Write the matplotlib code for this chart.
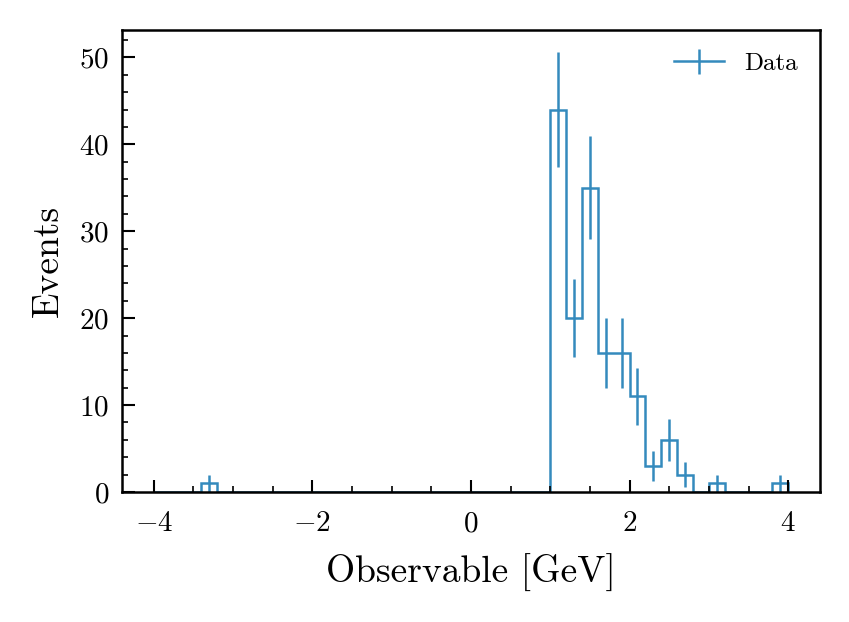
import numpy as np
import matplotlib
matplotlib.use("Agg")
import matplotlib.pyplot as plt

# histogram data: 40 bins of width 0.2 from -4 to 4
bin_edges = np.round(np.arange(-4.0, 4.0001, 0.2), 1)
counts = np.array([
    0, 0, 0, 1, 0, 0, 0, 0, 0, 0,     # -4.0 .. -2.0
    0, 0, 0, 0, 0, 0, 0, 0, 0, 0,     # -2.0 .. 0.0
    0, 0, 0, 0, 0, 44, 20, 35, 16, 16,  # 0.0 .. 2.0
    11, 3, 6, 2, 0, 1, 0, 0, 0, 1,    # 2.0 .. 4.0
])
label = "Data"
x_label = "Observable [GeV]"
y_label = "Events"

color = "#348ABD"

plt.rcParams["font.family"] = "serif"
plt.rcParams["font.serif"] = ["cmr10"]
plt.rcParams["mathtext.fontset"] = "cm"
plt.rcParams["axes.formatter.use_mathtext"] = True

fig = plt.figure(figsize=(849 / 150, 622 / 150), dpi=150)
ax = fig.add_axes([0.1437, 0.209, 0.822, 0.743])

centers = 0.5 * (bin_edges[:-1] + bin_edges[1:])
errors = np.sqrt(counts)

# step outline
ax.stairs(counts, bin_edges, color=color, linewidth=1.2)
# error bars (legend entry shows line + vertical bar)
ax.errorbar(centers, counts, yerr=errors, fmt="none", ecolor=color, elinewidth=1.2)
ax.errorbar([np.nan], [np.nan], yerr=[1], color=color, linewidth=1.2,
            elinewidth=1.2, label=label)

ax.set_ylim(bottom=0)
ax.set_xlabel(x_label, fontsize=18, labelpad=8)
ax.set_ylabel(y_label, fontsize=18, labelpad=7)

ax.tick_params(which="both", direction="in", top=False, right=False, labelsize=14)
ax.tick_params(axis="x", which="major", pad=9)
ax.tick_params(axis="y", which="major", pad=6)
ax.tick_params(which="major", length=6, width=1)
ax.tick_params(which="minor", length=3, width=0.8)
ax.xaxis.set_minor_locator(matplotlib.ticker.MultipleLocator(0.5))
ax.yaxis.set_minor_locator(matplotlib.ticker.MultipleLocator(2))
for s in ax.spines.values():
    s.set_linewidth(1.2)

ax.legend(loc="upper right", frameon=False, fontsize=12)

fig.savefig("out.png", dpi=150)
